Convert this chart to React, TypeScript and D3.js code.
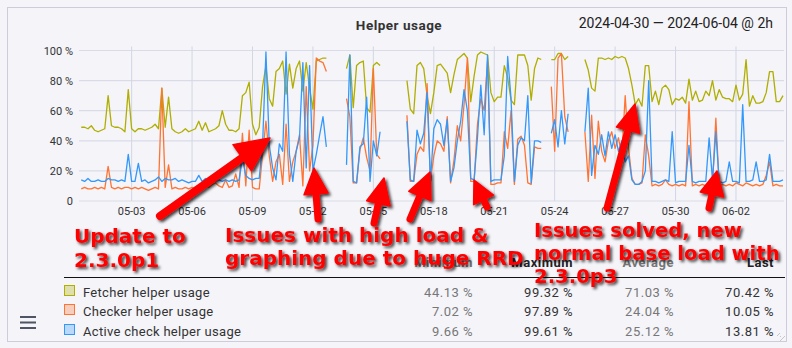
import React from 'react';
import * as d3 from 'd3';

const W = 792;
const H = 348;

// samples every 4h starting at 2024-04-30 12:00 UTC
const firstSample = '2024-04-30T12:00:00Z';
const stepHours = 4;

const fetcher: (number | null)[] = [
  49, 49, 48, 50, 47, 46, 47, 48, 70, 50,
  49, 49, 48, 46, 74, 48, 46, 48, 48, 47,
  48, 49, 51, 48, 75, 49, 69, 48, 46, 45,
  46, 48, 46, 47, 48, 53, 47, 52, 46, 47,
  48, 50, 60, 51, 47, 47, 46, 48, 70, 72,
  79, 51, 44, 49, 76, 90, 68, 63, 86, 88,
  93, 71, 91, 75, 88, 93, 73, 92, 75, 61,
  93, 94, 95, 95, null, null, null, null, null, 88,
  97, 62, 90, 92, 93, 62, 59, 90, 92, 90,
  null, null, null, null, null, null, null, 80, 61, 58,
  90, 92, 88, 70, 58, 72, 90, 91, 88, 85,
  72, 84, 94, 96, 98, 95, 66, 83, 97, 99,
  98, 97, 72, 66, 69, 69, 90, 82, 67, 64,
  97, 97, 97, 90, 67, 88, 95, 94, null, null,
  94, 94, 98, 98, 94, 96, null, null, null, null,
  94, 87, 75, 73, 95, 95, 94, 95, 94, 96,
  95, 96, 95, 88, 77, 64, 68, 63, 90, 90,
  66, 73, 64, 75, 77, 74, 64, 68, 67, 69,
  65, 81, 67, 73, 66, 67, 73, 70, 80, 67,
  74, 69, 68, 68, 66, 77, 67, 71, 94, 63,
  70, 65, 65, 66, 72, 86, 86, 66, 66, 70,
];

const checker: (number | null)[] = [
  8, 9, 8, 8, 9, 8, 9, 8, 23, 9,
  8, 9, 8, 9, 9, 8, 9, 8, 9, 8,
  7, 8, 9, 8, 75, 9, 24, 8, 9, 8,
  8, 9, 8, 9, 8, 9, 8, 10, 9, 11,
  12, 10, 9, 14, 9, 10, 18, 9, 45, 10,
  47, 9, 8, 8, 31, 53, 30, 13, 26, 31,
  11, 51, 13, 26, 33, 44, 10, 76, 20, 37,
  95, 93, 92, 86, null, null, null, null, null, 68,
  56, 12, 12, 34, 42, 29, 20, 88, 31, 28,
  null, null, null, null, null, null, null, 57, 13, 13,
  31, 36, 33, 78, 13, 30, 40, 38, 33, 56,
  12, 27, 50, 40, 64, 95, 13, 13, 51, 68,
  60, 93, 11, 11, 12, 12, 46, 35, 60, 11,
  41, 43, 37, 12, 11, 36, 35, 35, null, null,
  76, 33, 95, 98, 56, 46, null, null, null, null,
  46, 13, 57, 15, 53, 33, 26, 40, 46, 35,
  42, 30, 70, 35, 15, 11, 11, 12, 44, 30,
  10, 11, 10, 11, 14, 11, 10, 11, 10, 11,
  10, 66, 10, 11, 10, 11, 10, 12, 11, 55,
  10, 11, 10, 11, 10, 12, 11, 10, 12, 11,
  10, 11, 10, 11, 17, 26, 10, 11, 10, 10,
];

const active: (number | null)[] = [
  14, 13, 15, 13, 13, 14, 13, 13, 15, 14,
  14, 13, 14, 13, 31, 13, 13, 25, 13, 14,
  12, 13, 14, 16, 13, 15, 14, 14, 15, 13,
  14, 13, 12, 13, 13, 17, 13, 15, 13, 14,
  13, 14, 13, 14, 13, 14, 13, 14, 28, 17,
  15, 14, 15, 15, 37, 99, 37, 22, 14, 38,
  33, 99, 31, 13, 33, 42, 92, 22, 90, 20,
  31, 44, 56, 36, null, null, null, null, null, 24,
  97, 13, 12, 36, 38, 69, 13, 40, 30, 46,
  null, null, null, null, null, null, null, 53, 14, 13,
  47, 38, 45, 72, 13, 48, 54, 51, 37, 54,
  13, 22, 40, 53, 74, 60, 15, 14, 42, 77,
  44, 97, 13, 14, 14, 14, 30, 96, 68, 13,
  37, 42, 40, 70, 12, 40, 40, 39, null, null,
  45, 54, 36, 60, 38, 58, null, null, null, null,
  46, 75, 17, 37, 31, 44, 30, 46, 35, 44,
  33, 40, 26, 30, 14, 11, 11, 13, 20, 80,
  13, 13, 12, 13, 14, 13, 46, 12, 13, 13,
  13, 37, 13, 12, 13, 13, 13, 42, 14, 46,
  13, 12, 13, 26, 13, 13, 12, 64, 13, 13,
  14, 26, 13, 13, 14, 31, 13, 13, 13, 14,
];

const xTickDates = ['2024-05-03', '2024-05-06', '2024-05-09', '2024-05-12', '2024-05-15', '2024-05-18', '2024-05-21', '2024-05-24', '2024-05-27', '2024-05-30', '2024-06-02'];
const xTickLabels = ['05-03', '05-06', '05-09', '05-12', '05-15', '05-18', '05-21', '05-24', '05-27', '05-30', '06-02'];
const yTickValues = [0, 20, 40, 60, 80, 100];
const yTickLabels = ['0', '20 %', '40 %', '60 %', '80 %', '100 %'];

const seriesNames = ['Fetcher helper usage', 'Checker helper usage', 'Active check helper usage'];
const seriesColors = ['#b0ae00', '#ff7433', '#3398fb'];
const minimums = ['44.13 %', '7.02 %', '9.66 %'];
const maximums = ['99.32 %', '97.89 %', '99.61 %'];
const averages = ['71.03 %', '24.04 %', '25.12 %'];
const lasts = ['70.42 %', '10.05 %', '13.81 %'];
const columnHeaders = ['Minimum', 'Maximum', 'Average', 'Last'];

const FONT = 'Roboto, "Noto Sans", sans-serif';
const ANN_FONT = '"DejaVu Sans", Verdana, sans-serif';
const RED = '#ff0000';

const annotations = [
  { x: 74, ys: [243, 267], size: 20, lines: ['Update to', '2.3.0p1'] },
  { x: 225, ys: [242, 265], size: 20, lines: ['Issues with high load &', 'graphing due to huge RRD'] },
  { x: 534, ys: [237, 260, 283], size: 19.6, lines: ['Issues solved, new', 'normal base load with', '2.3.0p3'] },
];

const arrows = [
  { from: [160, 216], to: [270, 138], w: 8, L: 34, hw: 16 },
  { from: [318, 219], to: [314, 168], w: 7, L: 26, hw: 12 },
  { from: [374, 223], to: [384, 178], w: 7, L: 26, hw: 12 },
  { from: [410, 219], to: [430, 172], w: 7, L: 26, hw: 12 },
  { from: [487, 207], to: [474, 180], w: 7, L: 22, hw: 11 },
  { from: [607, 208], to: [635, 104], w: 7, L: 27, hw: 12 },
  { from: [709, 208], to: [717, 171], w: 7, L: 24, hw: 12 },
];

function Arrow({ from, to, w, L, hw }: any) {
  const dx = to[0] - from[0];
  const dy = to[1] - from[1];
  const len = Math.sqrt(dx * dx + dy * dy);
  const ux = dx / len, uy = dy / len;
  const nx = -uy, ny = ux;
  const bx = to[0] - ux * L, by = to[1] - uy * L;
  const pts = [
    [to[0], to[1]],
    [bx + nx * hw, by + ny * hw],
    [bx - nx * hw, by - ny * hw],
  ];
  return (
    <g filter="url(#shadow)">
      <line x1={from[0]} y1={from[1]} x2={bx + ux * 2} y2={by + uy * 2} stroke={RED} strokeWidth={w} strokeLinecap="round" />
      <polygon points={pts.map((p) => p.join(',')).join(' ')} fill={RED} stroke={RED} strokeWidth={1.5} strokeLinejoin="round" />
    </g>
  );
}

export default function App() {
  const t0 = new Date(firstSample).getTime();
  const timeAt = (i: number) => new Date(t0 + i * stepHours * 3600 * 1000);

  const x = d3
    .scaleUtc()
    .domain([new Date('2024-04-30T10:30:00Z'), new Date('2024-06-04T08:00:00Z')])
    .range([80, 783]);
  const y = d3.scaleLinear().domain([0, 100]).range([201, 50.5]);

  const line = d3
    .line<number | null>()
    .defined((d) => d != null)
    .x((_, i) => x(timeAt(i)))
    .y((d) => y(d as number));

  const series = [fetcher, checker, active];
  const colX = [473, 573, 674, 774];
  const headerColors = ['#777', '#222', '#777', '#222'];
  const valueColors = ['#777', '#333', '#777', '#333'];
  const rowBase = [297, 316, 336];

  return (
    <svg width={W} height={H} style={{ position: 'absolute', left: 0, top: 0, display: 'block' }}>
      <defs>
        <filter id="shadow" x="-30%" y="-30%" width="160%" height="160%">
          <feDropShadow dx="2" dy="2" stdDeviation="1.6" floodColor="#000" floodOpacity="0.75" />
        </filter>
        <clipPath id="plotclip">
          <rect x={79} y={40} width={706} height={170} />
        </clipPath>
      </defs>
      <rect x={0} y={0} width={W} height={H} fill="#f4f4f9" />
      <rect x={7.5} y={7.5} width={779} height={334} fill="#f4f4f9" stroke="#cbccdc" strokeWidth={1} />

      {/* title */}
      <text x={399} y={30} textAnchor="middle" fontFamily={FONT} fontWeight="bold" fontSize={13.5} letterSpacing={0.5} fill="#333">
        Helper usage
      </text>
      <text x={773} y={28} textAnchor="end" fontFamily={FONT} fontSize={14} fill="#222">
        2024-04-30 — 2024-06-04 @ 2h
      </text>

      {/* grid */}
      {yTickValues.map((v, i) => (
        <g key={'y' + v}>
          <line x1={79} x2={784} y1={y(v)} y2={y(v)} stroke="#d9dce8" strokeWidth={1.2} />
          <text x={73} y={y(v) + 4} textAnchor="end" fontFamily={FONT} fontSize={11} fill="#333">
            {yTickLabels[i]}
          </text>
        </g>
      ))}
      {xTickDates.map((d, i) => {
        const xx = x(new Date(d + 'T00:00:00Z'));
        return (
          <g key={d}>
            <line x1={xx} x2={xx} y1={y(100) - 4} y2={y(0)} stroke="#d3d7e3" strokeWidth={1} />
            <text x={xx} y={215} textAnchor="middle" fontFamily={FONT} fontSize={11} fill="#333">
              {xTickLabels[i]}
            </text>
          </g>
        );
      })}

      {/* series */}
      <g clipPath="url(#plotclip)">
        {series.map((s, k) => (
          <path key={k} d={line(s) || ''} fill="none" stroke={seriesColors[k]} strokeWidth={1.3} strokeLinejoin="round" />
        ))}
      </g>

      {/* legend table */}
      {columnHeaders.map((h, j) => (
        <text key={h} x={colX[j]} y={267} textAnchor="end" fontFamily={FONT} fontWeight="bold" fontSize={13} letterSpacing={0.5} fill={headerColors[j]}>
          {h}
        </text>
      ))}
      <line x1={64} x2={785} y1={277.5} y2={277.5} stroke="#111" strokeWidth={1.2} />
      {seriesNames.map((name, k) => {
        const vals = [minimums[k], maximums[k], averages[k], lasts[k]];
        return (
          <g key={name}>
            <rect x={64.5} y={rowBase[k] - 11.5} width={10} height={10} fill={seriesColors[k]} fillOpacity={0.3} stroke={seriesColors[k]} strokeWidth={1} />
            <text x={83} y={rowBase[k]} fontFamily={FONT} fontSize={13} fill="#333" letterSpacing={0.3}>
              {name}
            </text>
            {vals.map((v, j) => (
              <text key={j} x={colX[j]} y={rowBase[k]} textAnchor="end" fontFamily={FONT} fontSize={13} letterSpacing={0.5} fill={valueColors[j]}>
                {v}
              </text>
            ))}
          </g>
        );
      })}

      {/* hamburger */}
      {[316, 321.5, 327].map((yy) => (
        <rect key={yy} x={20} y={yy} width={16} height={2} fill="#4d5566" />
      ))}
      {/* resize grip */}
      {[0, 4, 8].map((o) => (
        <line key={o} x1={785 - o} y1={336} x2={780} y2={341 - o} stroke="#bbb" strokeWidth={0.8} />
      ))}

      {/* annotations */}
      {arrows.map((a, i) => (
        <Arrow key={i} {...a} />
      ))}
      {annotations.map((a, i) => (
        <g key={i} filter="url(#shadow)">
          {a.lines.map((l, j) => (
            <text key={j} x={a.x} y={a.ys[j]} fontFamily={ANN_FONT} fontWeight="bold" fontSize={a.size} fill={RED}>
              {l}
            </text>
          ))}
        </g>
      ))}
    </svg>
  );
}
